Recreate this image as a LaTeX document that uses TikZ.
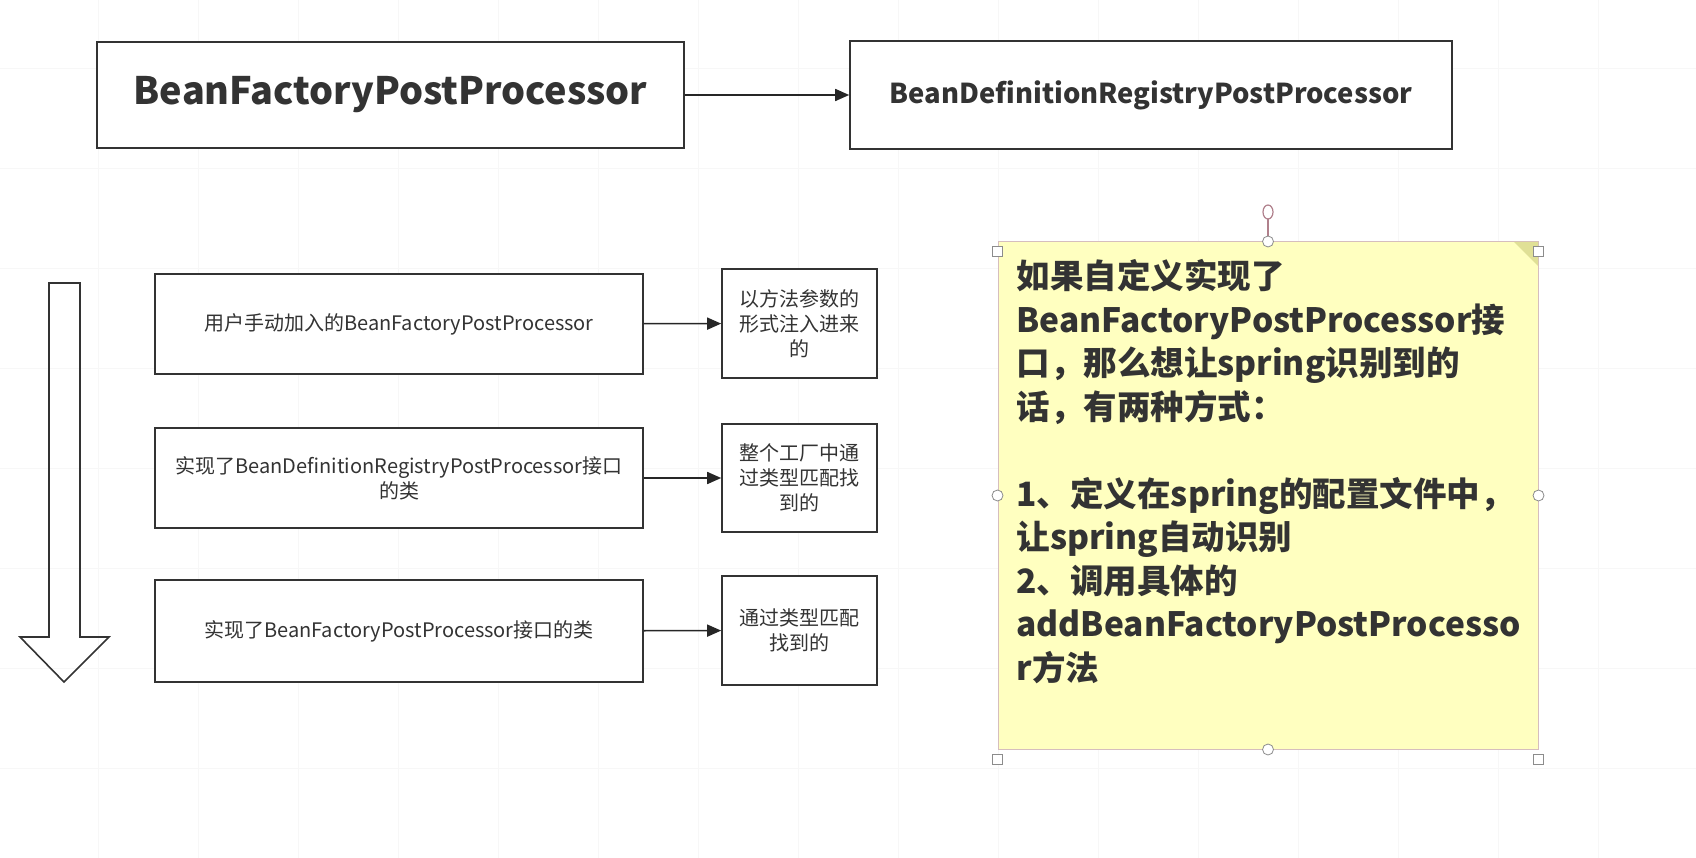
\documentclass[tikz,border=0pt]{standalone}
\usepackage{fontspec}
\setmainfont{Noto Sans CJK SC}
\usetikzlibrary{arrows.meta,positioning}
\definecolor{notefill}{RGB}{255,255,192}
\definecolor{notefold}{RGB}{224,224,150}
\definecolor{noteline}{RGB}{214,190,190}
\definecolor{handle}{RGB}{176,128,140}
\definecolor{txt}{RGB}{51,51,51}
\tikzset{
  box/.style={draw=black!80,line width=1.6pt,fill=white,text=txt,align=center,inner sep=0pt},
  flow/.style={-{Triangle[length=14pt,width=12pt]},line width=1.6pt,draw=black!85},
  grip/.style={draw=black!45,fill=white,line width=0.8pt},
}
\begin{document}
\begin{tikzpicture}[x=1pt,y=-1pt]
  \useasboundingbox (0,0) rectangle (1696,858);
  % faint background grid
  \foreach \gx in {98,198,...,1698} { \draw[black!3,line width=0.8pt] (\gx,0) -- (\gx,858); }
  \foreach \gy in {68,168,...,868} { \draw[black!3,line width=0.8pt] (0,\gy) -- (1696,\gy); }
  % top row
  \node[box,minimum width=587,minimum height=106,font=\fontsize{37.8}{45}\selectfont\bfseries] (bfpp) at (390.5,95) {BeanFactoryPostProcessor};
  \node[box,minimum width=602,minimum height=108,font=\fontsize{27.4}{32}\selectfont\bfseries] (bdrpp) at (1151,95) {BeanDefinitionRegistryPostProcessor};
  \draw[flow] (bfpp) -- (bdrpp);
  % hollow order arrow
  \draw[line width=1.6pt,draw=black!80] (49,283) -- (80,283) -- (80,637) -- (109,637) -- (64,682) -- (20,637) -- (49,637) -- cycle;
  % three sources
  \node[box,minimum width=488,minimum height=100,font=\fontsize{20}{25}\selectfont] (src1) at (399,324) {用户手动加入的BeanFactoryPostProcessor};
  \node[box,minimum width=488,minimum height=100,font=\fontsize{20}{25}\selectfont] (src2) at (399,478) {实现了BeanDefinitionRegistryPostProcessor接口\\的类};
  \node[box,minimum width=488,minimum height=102,font=\fontsize{20}{25}\selectfont] (src3) at (399,631) {实现了BeanFactoryPostProcessor接口的类};
  \node[box,minimum width=155,minimum height=109,font=\fontsize{20}{25}\selectfont] (how1) at (799.5,323.5) {以方法参数的\\形式注入进来\\的};
  \node[box,minimum width=155,minimum height=108,font=\fontsize{20}{25}\selectfont] (how2) at (799.5,478) {整个工厂中通\\过类型匹配找\\到的};
  \node[box,minimum width=155,minimum height=109,font=\fontsize{20}{25}\selectfont] (how3) at (799.5,630.5) {通过类型匹配\\找到的};
  \foreach \i in {1,2,3} { \draw[flow] (src\i) -- (how\i); }
  % sticky note with selection handles
  \node[draw=noteline,fill=notefill,line width=1pt,minimum width=540,minimum height=507,inner sep=0pt] (note) at (1268,495.5) {};
  \fill[notefold] (1514,242) -- (1538,242) -- (1538,266) -- cycle;
  \node[anchor=north west,align=left,text=txt,font=\fontsize{33.5}{43.5}\selectfont\bfseries] (notetext) at (1013,256) {如果自定义实现了\\BeanFactoryPostProcessor接\\口，那么想让spring识别到的\\话，有两种方式：\\[43.5pt]1、定义在spring的配置文件中，\\让spring自动识别\\2、调用具体的\\addBeanFactoryPostProcesso\\r方法};
  \coordinate (rot) at (1268,212);
  \draw[handle,line width=1.2pt] (note.north) -- ([yshift=-7pt]rot);
  \draw[handle,line width=1.2pt,fill=white] (rot) ellipse (5 and 7);
  \foreach \c in {north west,north east,south west,south east} { \draw[grip] ([xshift=-5pt,yshift=-5pt]note.\c) rectangle +(10,10); }
  \foreach \c in {north,south,west,east} { \draw[grip] (note.\c) circle (5.5); }
\end{tikzpicture}
\end{document}
